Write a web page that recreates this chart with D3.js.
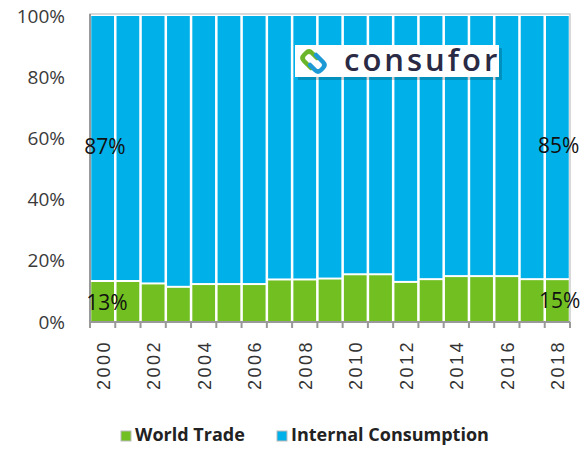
<!doctype html>
<html>
<head>
<style>
  body { margin: 0; background: white; }
  .yaxis text { font-family: "Open Sans", sans-serif; font-size: 19px; fill: #3a3a3a; }
  .xaxis text { font-family: "Liberation Sans", Arial, sans-serif; font-size: 18px; fill: #333; letter-spacing: 2.5px; }
  .xaxis path, .xaxis line { stroke: #999; stroke-width: 2px; }
  .lbl { font-family: "Open Sans", sans-serif; font-size: 21px; fill: #111; }
  .legend text { font-family: "Open Sans", sans-serif; font-weight: bold; font-size: 18px; fill: #222; }
</style>
<script src="https://cdn.jsdelivr.net/npm/d3@7"></script>
</head>
<body>
<script>
// data (% share)
var years = ['2000','2001','2002','2003','2004','2005','2006','2007','2008','2009',
             '2010','2011','2012','2013','2014','2015','2016','2017','2018'];
var worldTrade = [13.4, 13.4, 12.6, 11.5, 12.4, 12.4, 12.4, 13.9, 13.9, 14.2,
                  15.6, 15.6, 13.1, 14.0, 15.0, 15.0, 15.0, 14.0, 14.0];
var yTicks = [0, 20, 40, 60, 80, 100];
var seriesNames = ['World Trade', 'Internal Consumption'];
var colors = ['#71bf21', '#00b0e8'];
var endLabels = ['87%', '85%', '13%', '15%'];

var margin = {top: 14, right: 14, bottom: 128, left: 90};
var W = 584, H = 450;
var width = W - margin.left - margin.right;
var height = H - margin.top - margin.bottom;

var svg = d3.select('body').append('svg')
  .attr('width', W)
  .attr('height', H);

var g = svg.append('g')
  .attr('transform', `translate(${margin.left}, ${margin.top})`);

var xScale = d3.scaleBand().domain(years).range([0, width]).paddingInner(0.1).paddingOuter(0.05);
var yScale = d3.scaleLinear().domain([0, 100]).range([height, 2]);

// plot frame
g.append('rect')
  .attr('x', 0).attr('y', 0)
  .attr('width', width).attr('height', height)
  .attr('fill', 'none').attr('stroke', '#ccc').attr('stroke-width', 1.5);

// stacked bars
var bars = g.selectAll('.bar')
  .data(years.map((y, i) => ({year: y, wt: worldTrade[i]})))
  .enter().append('g')
  .attr('class', 'bar');

bars.append('rect')
  .attr('x', d => xScale(d.year))
  .attr('width', xScale.bandwidth())
  .attr('y', yScale(100))
  .attr('height', d => yScale(d.wt) - yScale(100) - 1)
  .style('fill', colors[1]);

bars.append('rect')
  .attr('x', d => xScale(d.year))
  .attr('width', xScale.bandwidth())
  .attr('y', d => yScale(d.wt) + 1)
  .attr('height', d => yScale(0) - yScale(d.wt) - 1)
  .style('fill', colors[0]);

// left axis line
g.append('line')
  .attr('x1', 0).attr('x2', 0)
  .attr('y1', 0).attr('y2', height)
  .attr('stroke', '#999').attr('stroke-width', 2);

// y axis labels
var yAxis = g.append('g')
  .attr('class', 'yaxis')
  .call(d3.axisLeft(yScale).tickValues(yTicks).tickSize(0).tickPadding(25).tickFormat(d => d + '%'));
yAxis.select('.domain').remove();

// x axis with ticks on band edges
var xAxis = g.append('g')
  .attr('class', 'xaxis')
  .attr('transform', `translate(0, ${height})`);
xAxis.append('line')
  .attr('x1', 0).attr('x2', width)
  .attr('stroke', '#999').attr('stroke-width', 2);
var step = xScale.step();
xAxis.selectAll('.tick')
  .data(d3.range(years.length + 1))
  .enter().append('line')
  .attr('x1', i => i * step + (i === 0 ? 0 : -xScale.paddingInner() * step / 2 + xScale.paddingOuter() * step))
  .attr('x2', i => i * step + (i === 0 ? 0 : -xScale.paddingInner() * step / 2 + xScale.paddingOuter() * step))
  .attr('y1', 0).attr('y2', 6);

xAxis.selectAll('.year')
  .data(years.filter((d, i) => i % 2 === 0))
  .enter().append('text')
  .text(d => d)
  .attr('text-anchor', 'end')
  .attr('transform', d => `translate(${xScale(d) + xScale.bandwidth() / 2 + 7}, 18) rotate(-90)`);

// value labels at both ends
var firstX = xScale(years[0]), lastX = xScale(years[years.length - 1]);
var labelPos = [
  {x: firstX - 7, y: 148},
  {x: lastX - 8, y: 147},
  {x: firstX - 5, y: 304},
  {x: lastX - 7, y: 302}
];
g.selectAll('.lbl')
  .data(endLabels)
  .enter().append('text')
  .attr('class', 'lbl')
  .attr('x', (d, i) => labelPos[i].x)
  .attr('y', (d, i) => labelPos[i].y - margin.top)
  .attr('dominant-baseline', 'middle')
  .text(d => d);

// consufor logo box
var logo = svg.append('g').attr('transform', 'translate(295, 45)');
logo.append('rect')
  .attr('x', 3).attr('y', 3).attr('width', 204).attr('height', 32)
  .attr('fill', '#000').attr('opacity', 0.18);
logo.append('rect')
  .attr('width', 204).attr('height', 32)
  .attr('fill', 'white');
logo.append('path')
  .attr('d', 'M22,13 L17,8 Q14,5 11,8 L9,10 Q6,13 9,16 L16,23')
  .attr('fill', 'none').attr('stroke', '#6ab52a').attr('stroke-width', 4.5).attr('stroke-linecap', 'round');
logo.append('path')
  .attr('d', 'M15,20 L20,25 Q23,28 26,25 L28,23 Q31,20 28,17 L21,10')
  .attr('fill', 'none').attr('stroke', '#1d9ad6').attr('stroke-width', 4.5).attr('stroke-linecap', 'round');
logo.append('text')
  .attr('x', 49).attr('y', 26)
  .style('font-family', '"Open Sans", sans-serif')
  .style('font-size', '31px')
  .style('font-weight', '600')
  .style('letter-spacing', '3px')
  .style('fill', '#2b2a45')
  .text('consufor');

// legend
var legend = svg.append('g').attr('class', 'legend')
  .selectAll('g')
  .data(seriesNames)
  .enter().append('g')
  .attr('transform', (d, i) => `translate(${[121, 277][i]}, 431)`);
legend.append('rect')
  .attr('width', 10).attr('height', 10)
  .attr('fill', (d, i) => colors[i])
  .attr('stroke', '#bbb').attr('stroke-width', 1);
legend.append('text')
  .attr('x', 14).attr('y', 5)
  .attr('dominant-baseline', 'middle')
  .text(d => d);
</script>
</body>
</html>
